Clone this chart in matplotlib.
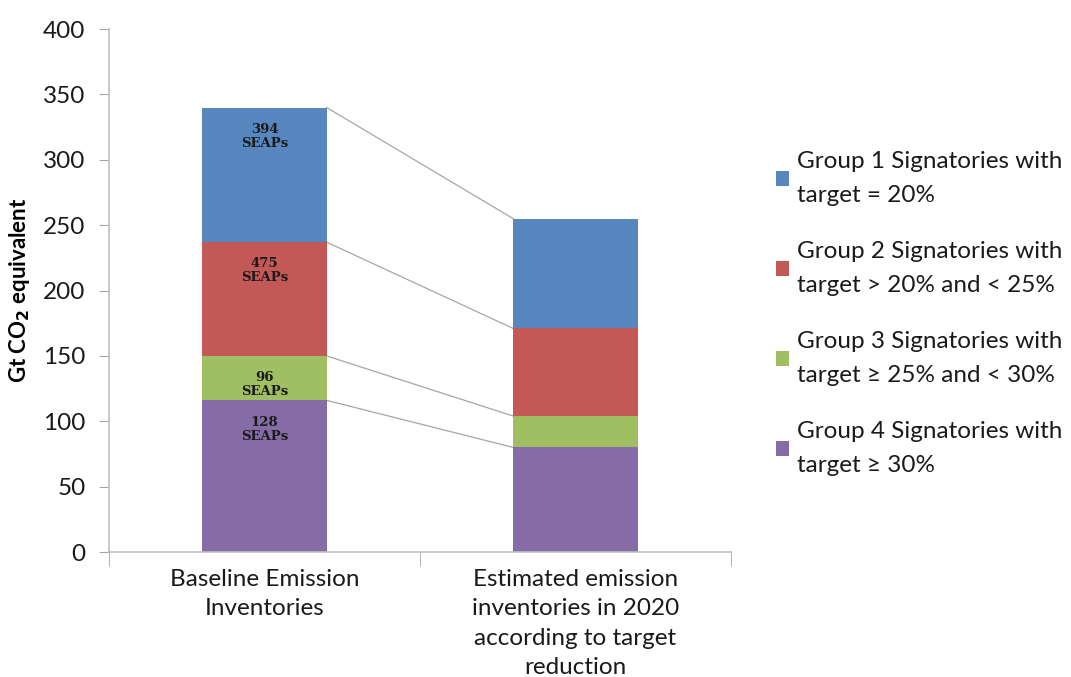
import matplotlib.pyplot as plt
import numpy as np

plt.rcParams['font.family'] = ['Lato', 'DejaVu Sans']

# Emission inventories (Gt CO2 eq) per signatory group
categories = ["Baseline Emission\nInventories",
              "Estimated emission\ninventories in 2020\naccording to target\nreduction"]
groups = ["Group 1 Signatories with\ntarget = 20%",
          "Group 2 Signatories with\ntarget > 20% and < 25%",
          "Group 3 Signatories with\ntarget \u2265 25% and < 30%",
          "Group 4 Signatories with\ntarget \u2265 30%"]
group1 = [103, 84]
group2 = [87, 67]
group3 = [34, 24]
group4 = [116, 80]
seap_counts = [394, 475, 96, 128]
colors = ["#4f81bd", "#c0504d", "#9bbb59", "#8064a2"]

fig = plt.figure(figsize=(10.71, 6.77), dpi=100)
ax = fig.add_axes([0.1018, 0.1846, 0.5807, 0.7724])

x = np.arange(len(categories))
width = 0.4

# stack from the bottom: group 4 first
series = [group4, group3, group2, group1]
series_colors = colors[::-1]
series_labels = groups[::-1]
series_counts = seap_counts[::-1]

bottom = np.zeros(len(categories))
bars = []
tops = []
for vals, c, lab in zip(series, series_colors, series_labels):
    b = ax.bar(x, vals, width, bottom=bottom, color=c, alpha=0.95, label=lab,
               edgecolor='none', zorder=2)
    bars.append(b)
    bottom = bottom + np.array(vals)
    tops.append(bottom.copy())

# SEAP counts on the baseline bar
for cnt, top in zip(series_counts, tops):
    ax.annotate(f"{cnt}\nSEAPs", xy=(x[0], top[0]), xytext=(0, -11),
                textcoords='offset points', ha='center', va='top',
                fontsize=9.5, fontweight='bold', family='DejaVu Serif',
                color='#1a1a1a', linespacing=1.1, zorder=3)

# connector lines between segment tops
for top in tops:
    ax.plot([x[0] + width / 2, x[1] - width / 2], [top[0], top[1]],
            color='#a6a6a6', lw=0.9, zorder=1)

ax.set_xlim(-0.5, 1.5)
ax.set_ylim(0, 400)
ax.set_yticks(np.arange(0, 401, 50))
ax.tick_params(axis='y', labelsize=17.5, length=7, color='#a6a6a6',
               labelcolor='#1a1a1a', pad=10)
ax.set_xticks(x)
ax.set_xticklabels(categories, fontsize=17.5, color='#1a1a1a', linespacing=1.5)
ax.tick_params(axis='x', length=0, pad=12)
ax.set_xticks([-0.5, 0.5, 1.5], minor=True)
ax.tick_params(axis='x', which='minor', length=10, color='#a6a6a6')

for side in ['top', 'right']:
    ax.spines[side].set_visible(False)
for side in ['left', 'bottom']:
    ax.spines[side].set_color('#bfbfbf')
    ax.spines[side].set_linewidth(1.2)

ax.set_ylabel(r"Gt CO$_\mathbf{2}$ equivalent", fontsize=16, fontweight='bold',
              labelpad=8)

handles = [b for b in bars][::-1]
leg = ax.legend(handles, groups, loc='upper left', bbox_to_anchor=(1.057, 0.785),
                frameon=False, fontsize=17.5, handlelength=0.55, handleheight=0.55,
                handletextpad=0.3, labelspacing=1.45, borderaxespad=0)
for t in leg.get_texts():
    t.set_color('#1a1a1a')
    t.set_linespacing(1.75)

fig.savefig("out.png", dpi=100)
